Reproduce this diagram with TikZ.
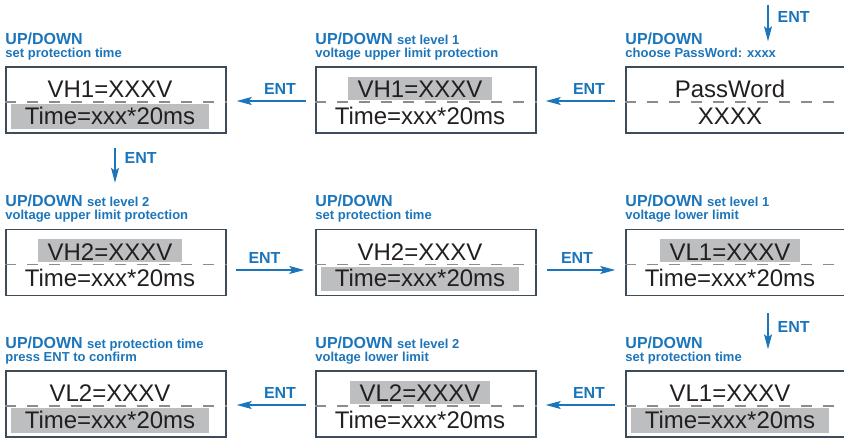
\documentclass[tikz,border=0pt]{standalone}
\usepackage{fontspec}
\setmainfont{Liberation Sans}
\usetikzlibrary{arrows.meta}

\definecolor{entblue}{HTML}{1B75BB}
\definecolor{hlgray}{HTML}{BCBEC0}
\definecolor{framegray}{HTML}{3E4B59}
\definecolor{sepgray}{HTML}{8C8C8C}
\definecolor{lcdtext}{HTML}{231F20}

\tikzset{
  screen/.style={draw=framegray, line width=1.5pt, minimum width=220pt, minimum height=66pt, inner sep=0pt},
  sepline/.style={draw=sepgray, line width=1.3pt, dash pattern=on 11pt off 11pt},
  lcd/.style={font=\fontsize{24}{24}\selectfont, text=lcdtext, inner sep=0pt, anchor=base},
  nohl/.style={},
  hltop/.style={fill=hlgray, text height=21pt, text depth=2pt, inner xsep=10pt},
  hlbot/.style={fill=hlgray, text height=20pt, text depth=4.5pt, inner xsep=14pt},
  uplabel/.style={font=\bfseries\fontsize{16}{16}\selectfont, text=entblue, inner sep=0pt, anchor=base west},
  sublabel/.style={font=\bfseries\fontsize{13}{13}\selectfont, text=entblue, inner sep=0pt, anchor=base west},
  entarrow/.style={draw=entblue, line width=1.2pt, -{Stealth[length=15pt,width=8pt,inset=3pt]}},
  entlabel/.style={font=\bfseries\fontsize{16}{16}\selectfont, text=entblue, inner sep=0pt}
}

% one display: name, centre, top line, bottom line, top style, bottom style
\newcommand{\lcdscreen}[6]{%
  \node[screen] (#1) at (#2) {};
  \draw[sepline] ([yshift=-2pt]#1.west) -- ([yshift=-2pt]#1.east);
  \node[lcd,#5] (#1top) at ([xshift=-6pt,yshift=2pt]#1.center) {#3};
  \node[lcd,#6] (#1bot) at ([xshift=-6pt,yshift=-24.5pt]#1.center) {#4};
}

\begin{document}
\begin{tikzpicture}[x=1pt,y=-1pt]
  \useasboundingbox (0,0) rectangle (844,438);

  % Displays
  \lcdscreen{b1}{116,100}{VH1=XXXV}{Time=xxx*20ms}{nohl}{hlbot}
  \lcdscreen{b2}{426,100}{VH1=XXXV}{Time=xxx*20ms}{hltop}{nohl}
  \lcdscreen{b3}{736,100}{PassWord}{XXXX}{nohl}{nohl}
  \lcdscreen{b4}{116,262.5}{VH2=XXXV}{Time=xxx*20ms}{hltop}{nohl}
  \lcdscreen{b5}{426,262.5}{VH2=XXXV}{Time=xxx*20ms}{nohl}{hlbot}
  \lcdscreen{b6}{736,262.5}{VL1=XXXV}{Time=xxx*20ms}{hltop}{nohl}
  \lcdscreen{b7}{116,404}{VL2=XXXV}{Time=xxx*20ms}{nohl}{hlbot}
  \lcdscreen{b8}{426,404}{VL2=XXXV}{Time=xxx*20ms}{hltop}{nohl}
  \lcdscreen{b9}{736,404}{VL1=XXXV}{Time=xxx*20ms}{nohl}{hlbot}

  % Captions above the displays
  \node[uplabel] (b1cap) at ([yshift=22pt]b1.north west) {UP/DOWN};
  \node[sublabel] (b1sub) at ([yshift=9pt]b1.north west) {set protection time};
  \node[uplabel] (b2cap) at ([yshift=22pt]b2.north west) {UP/DOWN {\fontsize{13}{13}\selectfont set level 1}};
  \node[sublabel] (b2sub) at ([yshift=9pt]b2.north west) {voltage upper limit protection};
  \node[uplabel] (b3cap) at ([yshift=22pt]b3.north west) {UP/DOWN};
  \node[sublabel] (b3sub) at ([yshift=9pt]b3.north west) {choose PassWord: xxxx};

  \node[uplabel] (b4cap) at ([yshift=22pt]b4.north west) {UP/DOWN {\fontsize{13}{13}\selectfont set level 2}};
  \node[sublabel] (b4sub) at ([yshift=9pt]b4.north west) {voltage upper limit protection};
  \node[uplabel] (b5cap) at ([yshift=22pt]b5.north west) {UP/DOWN};
  \node[sublabel] (b5sub) at ([yshift=9pt]b5.north west) {set protection time};
  \node[uplabel] (b6cap) at ([yshift=22pt]b6.north west) {UP/DOWN {\fontsize{13}{13}\selectfont set level 1}};
  \node[sublabel] (b6sub) at ([yshift=9pt]b6.north west) {voltage lower limit};

  \node[uplabel] (b7cap) at ([yshift=22pt]b7.north west) {UP/DOWN {\fontsize{13}{13}\selectfont set protection time}};
  \node[sublabel] (b7sub) at ([yshift=9pt]b7.north west) {press ENT to confirm};
  \node[uplabel] (b8cap) at ([yshift=22pt]b8.north west) {UP/DOWN {\fontsize{13}{13}\selectfont set level 2}};
  \node[sublabel] (b8sub) at ([yshift=9pt]b8.north west) {voltage lower limit};
  \node[uplabel] (b9cap) at ([yshift=22pt]b9.north west) {UP/DOWN};
  \node[sublabel] (b9sub) at ([yshift=9pt]b9.north west) {set protection time};

  % ENT steps
  \coordinate (start) at (768,5);
  \draw[entarrow, shorten >=25pt] (start) -- node[entlabel, pos=0.2, anchor=west, xshift=9pt] (e0) {ENT} ([xshift=32pt]b3.north);
  \draw[entarrow, shorten <=10pt, shorten >=9pt] ([yshift=-1pt]b3.west) -- node[entlabel, midway, xshift=8pt, yshift=12.5pt] (e1) {ENT} ([yshift=-1pt]b2.east);
  \draw[entarrow, shorten <=9pt, shorten >=10pt] ([yshift=-1pt]b2.west) -- node[entlabel, midway, xshift=9pt, yshift=12.5pt] (e2) {ENT} ([yshift=-1pt]b1.east);
  \draw[entarrow, shorten <=14pt, shorten >=46pt] ([xshift=-1pt]b1.south) -- node[entlabel, pos=0.255, anchor=west, xshift=9pt] (e3) {ENT} ([xshift=-1pt]b4.north);
  \draw[entarrow, shorten <=9pt, shorten >=11pt] ([yshift=-7.5pt]b4.east) -- node[entlabel, midway, xshift=-6.5pt, yshift=12.5pt] (e4) {ENT} ([yshift=-7.5pt]b5.west);
  \draw[entarrow, shorten <=10pt, shorten >=10pt] ([yshift=-7.5pt]b5.east) -- node[entlabel, midway, xshift=-4pt, yshift=12.5pt] (e5) {ENT} ([yshift=-7.5pt]b6.west);
  \draw[entarrow, shorten <=17pt, shorten >=21pt] ([xshift=32pt]b6.south) -- node[entlabel, pos=0.42, anchor=west, xshift=9pt] (e6) {ENT} ([xshift=32pt]b9.north);
  \draw[entarrow, shorten <=10pt, shorten >=9pt] ([yshift=-1pt]b9.west) -- node[entlabel, midway, xshift=8pt, yshift=12.5pt] (e7) {ENT} ([yshift=-1pt]b8.east);
  \draw[entarrow, shorten <=9pt, shorten >=10pt] ([yshift=-1pt]b8.west) -- node[entlabel, midway, xshift=9pt, yshift=12.5pt] (e8) {ENT} ([yshift=-1pt]b7.east);
\end{tikzpicture}
\end{document}
